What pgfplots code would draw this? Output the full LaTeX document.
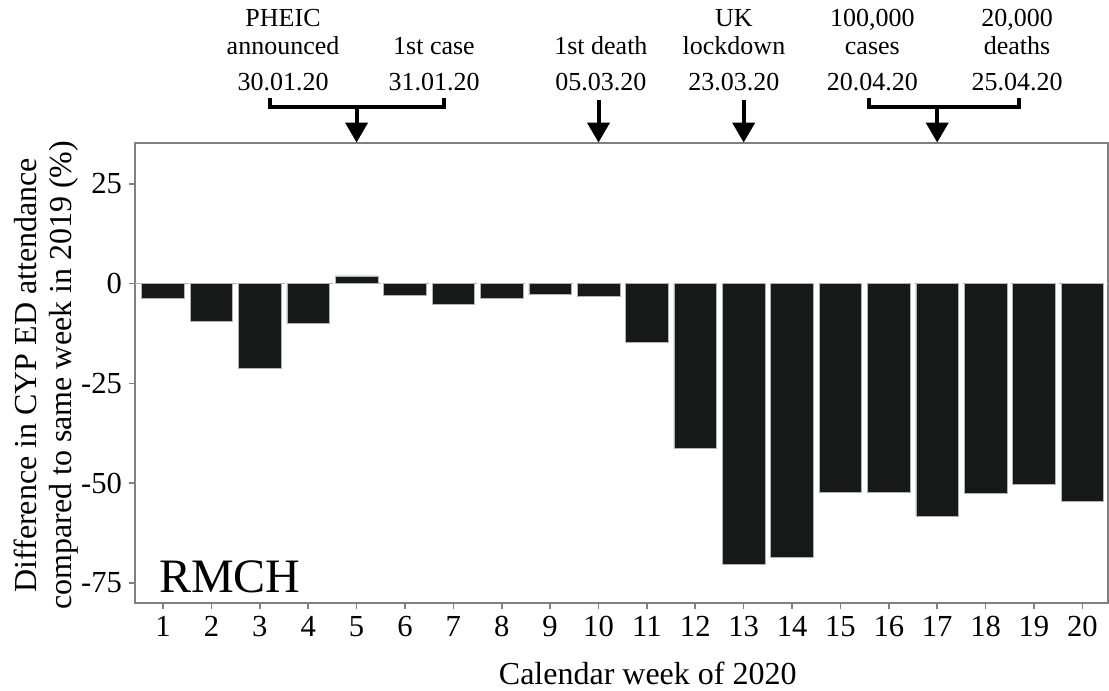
\documentclass[border=0pt]{standalone}
\usepackage{fontspec}
\setmainfont{Liberation Serif}
\usepackage{pgfplots}
\pgfplotsset{compat=1.18}
\usetikzlibrary{arrows.meta}
\definecolor{barc}{RGB}{23,25,24}
\definecolor{framec}{RGB}{128,128,128}
\begin{document}
\begin{tikzpicture}
\begin{axis}[
  scale only axis, width=486.5pt, height=230pt,
  xmin=0.42, xmax=20.53, ymin=-80, ymax=35.2,
  xtick={1,...,20}, ytick={-75,-50,-25,0,25},
  yticklabels={-75,-50,-25,0,25},
  /pgf/number format/assume math mode=true,
  axis line style={framec, line width=1pt},
  tick style={framec, line width=0.8pt},
  tick align=outside, major tick length=3pt,
  xtick pos=bottom, ytick pos=left,
  ticklabel style={font=\fontsize{15.3}{15}\selectfont},
  xlabel={Calendar week of 2020},
  xlabel style={font=\fontsize{16}{16}\selectfont, at={(rel axis cs:0.527,0)}, anchor=north, yshift=-26pt},
  ylabel={Difference in CYP ED attendance\\compared to same week in 2019 (\%)},
  ylabel style={font=\fontsize{16}{17.5}\selectfont, align=center, at={(rel axis cs:-0.0915,0.495)}, anchor=center},
  clip=false,
  ybar, bar width=0.88, bar shift=0,
]
\addplot[fill=barc, draw=gray!60, line width=0.3pt] coordinates {
(1,-3.8) (2,-9.5) (3,-21.1) (4,-10.0) (5,1.9) (6,-2.9) (7,-5.2) (8,-3.6) (9,-2.8) (10,-3.1)
(11,-14.7) (12,-41.3) (13,-70.4) (14,-68.5) (15,-52.2) (16,-52.3) (17,-58.3) (18,-52.6) (19,-50.3) (20,-54.5)};
\draw[gray!60, dashed, line width=0.8pt] (axis cs:0.42,0) -- (axis cs:20.53,0);
\node[anchor=base west, font=\fontsize{24}{24}\selectfont] at (rel axis cs:0.0175,0.022) {RMCH};
% annotations
\begin{scope}[every node/.style={font=\fontsize{13}{13}\selectfont, anchor=base}]
\node at (axis cs:3.48,64.4) {PHEIC};
\node at (axis cs:3.48,57.4) {announced};
\node at (axis cs:3.48,48.3) {30.01.20};
\node at (axis cs:6.6,57.4) {1st case};
\node at (axis cs:6.6,48.3) {31.01.20};
\node at (axis cs:10.05,57.4) {1st death};
\node at (axis cs:10.05,48.3) {05.03.20};
\node at (axis cs:12.8,64.4) {UK};
\node at (axis cs:12.8,57.4) {lockdown};
\node at (axis cs:12.8,48.3) {23.03.20};
\node at (axis cs:15.66,64.4) {100,000};
\node at (axis cs:15.66,57.4) {cases};
\node at (axis cs:15.66,48.3) {20.04.20};
\node at (axis cs:18.65,64.4) {20,000};
\node at (axis cs:18.65,57.4) {deaths};
\node at (axis cs:18.65,48.3) {25.04.20};
\end{scope}
\begin{scope}[line width=2pt, black]
\draw (axis cs:3.2,46.4) -- (axis cs:3.2,44.2) -- (axis cs:6.8,44.2) -- (axis cs:6.8,46.4);
\draw (axis cs:15.6,46.4) -- (axis cs:15.6,44.2) -- (axis cs:18.7,44.2) -- (axis cs:18.7,46.4);
\draw[-{Triangle[width=11pt,length=10pt]}] (axis cs:5,44.2) -- (axis cs:5,35.3);
\draw[-{Triangle[width=11pt,length=10pt]}] (axis cs:17,44.2) -- (axis cs:17,35.3);
\draw[-{Triangle[width=11pt,length=10pt]}] (axis cs:10,46) -- (axis cs:10,35.3);
\draw[-{Triangle[width=11pt,length=10pt]}] (axis cs:13,46) -- (axis cs:13,35.3);
\end{scope}
\end{axis}
\pgfresetboundingbox
\path[use as bounding box] ([shift={(-67.5pt,-43.5pt)}]current axis.south west) rectangle ([shift={(0.5pt,71.5pt)}]current axis.north east);
\end{tikzpicture}
\end{document}
